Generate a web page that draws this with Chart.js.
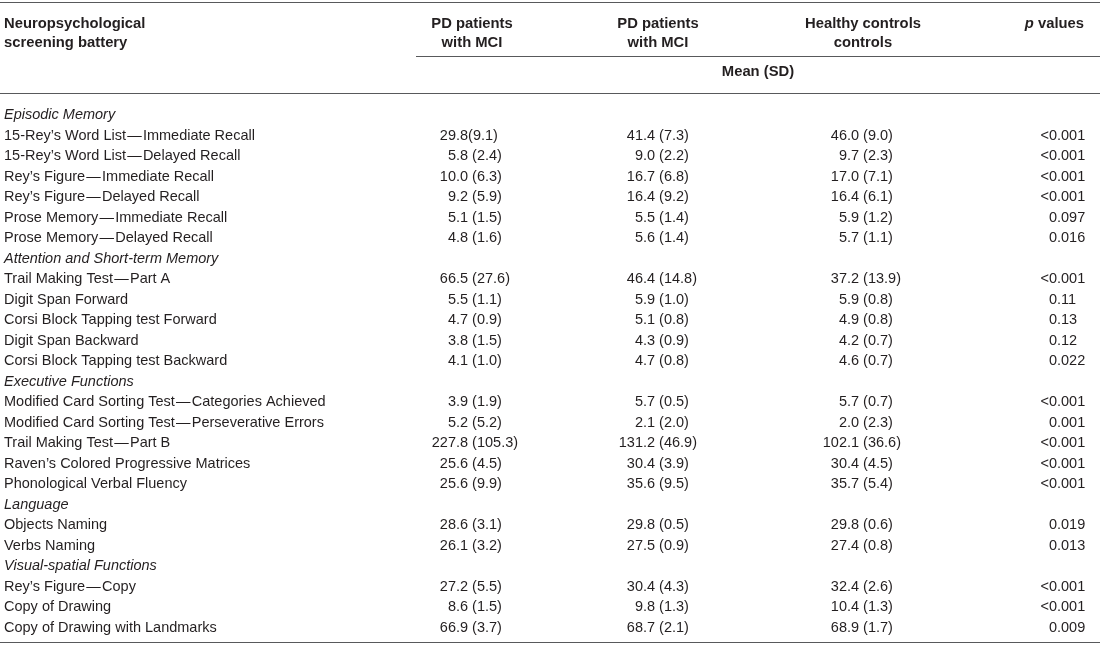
<!DOCTYPE html>
<html>
<head>
<meta charset="utf-8">
<title>Neuropsychological screening battery</title>
<script src="https://cdn.jsdelivr.net/npm/chart.js@4.4.1/dist/chart.umd.min.js"></script>
<style>
  html, body { margin: 0; padding: 0; background: #fff; }
  #wrap { width: 1100px; height: 648px; position: relative; }
</style>
</head>
<body>
<div id="wrap"><canvas id="table"></canvas></div>
<script>
// first column: tests, with the domain headings in between
const rowLabels = [
  'Episodic Memory',
  '15-Rey’s Word List\u200A—\u200AImmediate Recall',
  '15-Rey’s Word List\u200A—\u200ADelayed Recall',
  'Rey’s Figure\u200A—\u200AImmediate Recall',
  'Rey’s Figure\u200A—\u200ADelayed Recall',
  'Prose Memory\u200A—\u200AImmediate Recall',
  'Prose Memory\u200A—\u200ADelayed Recall',
  'Attention and Short-term Memory',
  'Trail Making Test\u200A—\u200APart A',
  'Digit Span Forward',
  'Corsi Block Tapping test Forward',
  'Digit Span Backward',
  'Corsi Block Tapping test Backward',
  'Executive Functions',
  'Modified Card Sorting Test\u200A—\u200ACategories Achieved',
  'Modified Card Sorting Test\u200A—\u200APerseverative Errors',
  'Trail Making Test\u200A—\u200APart B',
  'Raven’s Colored Progressive Matrices',
  'Phonological Verbal Fluency',
  'Language',
  'Objects Naming',
  'Verbs Naming',
  'Visual-spatial Functions',
  'Rey’s Figure\u200A—\u200ACopy',
  'Copy of Drawing',
  'Copy of Drawing with Landmarks'
];
const groupLabels = ['Episodic Memory', 'Attention and Short-term Memory', 'Executive Functions', 'Language', 'Visual-spatial Functions'];

// mean (SD) per group, null on heading rows
const pdMciA = [null, '29.8(9.1)', '5.8 (2.4)', '10.0 (6.3)', '9.2 (5.9)', '5.1 (1.5)', '4.8 (1.6)',
  null, '66.5 (27.6)', '5.5 (1.1)', '4.7 (0.9)', '3.8 (1.5)', '4.1 (1.0)',
  null, '3.9 (1.9)', '5.2 (5.2)', '227.8 (105.3)', '25.6 (4.5)', '25.6 (9.9)',
  null, '28.6 (3.1)', '26.1 (3.2)',
  null, '27.2 (5.5)', '8.6 (1.5)', '66.9 (3.7)'];
const pdMciB = [null, '41.4 (7.3)', '9.0 (2.2)', '16.7 (6.8)', '16.4 (9.2)', '5.5 (1.4)', '5.6 (1.4)',
  null, '46.4 (14.8)', '5.9 (1.0)', '5.1 (0.8)', '4.3 (0.9)', '4.7 (0.8)',
  null, '5.7 (0.5)', '2.1 (2.0)', '131.2 (46.9)', '30.4 (3.9)', '35.6 (9.5)',
  null, '29.8 (0.5)', '27.5 (0.9)',
  null, '30.4 (4.3)', '9.8 (1.3)', '68.7 (2.1)'];
const healthy = [null, '46.0 (9.0)', '9.7 (2.3)', '17.0 (7.1)', '16.4 (6.1)', '5.9 (1.2)', '5.7 (1.1)',
  null, '37.2 (13.9)', '5.9 (0.8)', '4.9 (0.8)', '4.2 (0.7)', '4.6 (0.7)',
  null, '5.7 (0.7)', '2.0 (2.3)', '102.1 (36.6)', '30.4 (4.5)', '35.7 (5.4)',
  null, '29.8 (0.6)', '27.4 (0.8)',
  null, '32.4 (2.6)', '10.4 (1.3)', '68.9 (1.7)'];
const pValues = [null, '<0.001', '<0.001', '<0.001', '<0.001', '0.097', '0.016',
  null, '<0.001', '0.11', '0.13', '0.12', '0.022',
  null, '<0.001', '0.001', '<0.001', '<0.001', '<0.001',
  null, '0.019', '0.013',
  null, '<0.001', '<0.001', '0.009'];

const columnHeads = [['PD patients', 'with MCI'], ['PD patients', 'with MCI'], ['Healthy controls', 'controls']];

// layout
const FAMILY = '"Liberation Sans", Arial, Helvetica, sans-serif';
const SIZE = 14.5;
const HEAD_SIZE = 14.8;
const INK = '#231f20';
const RULE = '#58595b';
const decimalX = [456, 643, 847, 1057];   // decimal point of each value column
const headCenterX = [472, 658, 863];
const pHeadRight = 1084;

function cellPoints(cells, col) {
  const pts = [];
  cells.forEach((c, i) => {
    if (c !== null) pts.push({ x: decimalX[col], y: rowLabels[i], text: c });
  });
  return pts;
}

// draw the cell text at each point, aligned on the decimal point
const cellText = {
  id: 'cellText',
  afterDatasetsDraw(chart) {
    const ctx = chart.ctx;
    ctx.save();
    ctx.fillStyle = INK;
    ctx.font = `${SIZE}px ${FAMILY}`;
    ctx.textBaseline = 'middle';
    chart.data.datasets.forEach((ds, di) => {
      chart.getDatasetMeta(di).data.forEach((pt, j) => {
        const s = ds.data[j].text;
        const k = s.indexOf('.');
        ctx.textAlign = 'right';
        ctx.fillText(s.slice(0, k), pt.x, pt.y);
        ctx.textAlign = 'left';
        ctx.fillText(s.slice(k), pt.x, pt.y);
      });
    });
    ctx.restore();
  }
};

// header block and horizontal rules
const tableFrame = {
  id: 'tableFrame',
  afterDraw(chart) {
    const ctx = chart.ctx;
    const xs = chart.scales.x;
    const W = chart.width;
    ctx.save();
    ctx.strokeStyle = RULE;
    ctx.lineWidth = 1;
    const hline = (x0, x1, y) => {
      ctx.beginPath(); ctx.moveTo(x0, y); ctx.lineTo(x1, y); ctx.stroke();
    };
    hline(0, W, 2.5);
    hline(416, W, 56.5);
    hline(0, W, 93.5);
    hline(0, W, 642.5);

    ctx.fillStyle = INK;
    ctx.textBaseline = 'middle';
    ctx.font = `bold ${HEAD_SIZE}px ${FAMILY}`;
    ctx.textAlign = 'left';
    ctx.fillText('Neuropsychological', 4, 24);
    ctx.fillText('screening battery', 4, 43);

    ctx.textAlign = 'center';
    columnHeads.forEach((lines, i) => {
      const x = xs.getPixelForValue(headCenterX[i]);
      ctx.fillText(lines[0], x, 24);
      ctx.fillText(lines[1], x, 43);
    });
    ctx.fillText('Mean (SD)', (416 + W) / 2, 72);

    ctx.textAlign = 'right';
    const pr = xs.getPixelForValue(pHeadRight);
    ctx.fillText(' values', pr, 24);
    const w = ctx.measureText(' values').width;
    ctx.font = `italic bold ${HEAD_SIZE}px ${FAMILY}`;
    ctx.fillText('p', pr - w, 24);
    ctx.restore();
  }
};

const columns = [pdMciA, pdMciB, healthy, pValues];

new Chart(document.getElementById('table'), {
  type: 'scatter',
  data: {
    labels: rowLabels,
    datasets: columns.map((cells, col) => ({
      data: cellPoints(cells, col),
      pointRadius: 0,
      pointHoverRadius: 0
    }))
  },
  options: {
    responsive: true,
    maintainAspectRatio: false,
    animation: false,
    events: [],
    layout: { padding: { top: 115, bottom: 20.5, left: 0, right: 0 } },
    plugins: { legend: { display: false }, tooltip: { enabled: false } },
    scales: {
      x: { type: 'linear', min: 0, max: 1100, display: false },
      y: {
        type: 'category',
        labels: rowLabels,
        offset: false,
        grid: { display: false },
        border: { display: false },
        afterFit(scale) { scale.width = 0; },
        ticks: {
          mirror: true,
          padding: 4,
          autoSkip: false,
          color: INK,
          font: (c) => ({
            family: FAMILY,
            size: SIZE,
            style: groupLabels.includes(rowLabels[c.index]) ? 'italic' : 'normal'
          })
        }
      }
    }
  },
  plugins: [cellText, tableFrame]
});
</script>
</body>
</html>
